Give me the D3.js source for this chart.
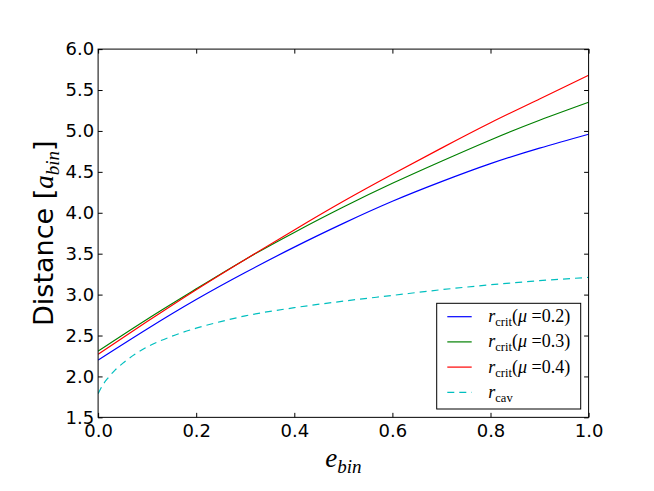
<!DOCTYPE html>
<html>
<head>
<meta charset="utf-8">
<script src="https://cdn.jsdelivr.net/npm/d3@7/dist/d3.min.js"></script>
<style>
  html, body { margin: 0; padding: 0; background: #fff; }
  svg { display: block; }
</style>
</head>
<body>
<svg id="chart" width="654" height="491"></svg>
<script>
// ---- data ----
const eGrid   = [0, 0.1, 0.2, 0.3, 0.4, 0.5, 0.6, 0.7, 0.8, 0.9, 1.0];
const rCritMu02 = [2.20, 2.58, 2.94, 3.27, 3.58, 3.87, 4.14, 4.38, 4.60, 4.79, 4.96];
const rCritMu03 = [2.31, 2.70, 3.07, 3.43, 3.76, 4.07, 4.36, 4.63, 4.89, 5.13, 5.35];
const rCritMu04 = [2.27, 2.67, 3.06, 3.43, 3.79, 4.14, 4.47, 4.79, 5.10, 5.39, 5.68];
const eCav    = [0, 0.01, 0.02, 0.035, 0.05, 0.075, 0.1, 0.15, 0.2, 0.25, 0.3, 0.4, 0.5, 0.6, 0.7, 0.8, 0.9, 1.0];
const rCav    = [1.79, 1.90, 1.98, 2.08, 2.16, 2.27, 2.36, 2.49, 2.59, 2.67, 2.74, 2.84, 2.92, 2.99, 3.06, 3.12, 3.17, 3.21];
const muLabels = ["0.2", "0.3", "0.4"];
const xTicks = [0, 0.2, 0.4, 0.6, 0.8, 1.0];
const yTicks = [1.5, 2.0, 2.5, 3.0, 3.5, 4.0, 4.5, 5.0, 5.5, 6.0];

// ---- layout ----
const pL = 98.1, pR = 588.6, pT = 49.1, pB = 417.35;
const svg = d3.select("#chart");
const x = d3.scaleLinear().domain([0, 1]).range([pL, pR]);
const y = d3.scaleLinear().domain([1.5, 6.0]).range([pB, pT]);
const fmt = d3.format(".1f");
const sans = "'DejaVu Sans', sans-serif";
const serif = "'Liberation Serif', 'DejaVu Serif', serif";

svg.append("defs").append("clipPath").attr("id", "clip")
  .append("rect").attr("x", pL).attr("y", pT).attr("width", pR - pL).attr("height", pB - pT);

const seriesList = [
  { xs: eGrid, ys: rCritMu02, color: "#0000ff", dash: null, mu: muLabels[0], curve: d3.curveNatural },
  { xs: eGrid, ys: rCritMu03, color: "#008000", dash: null, mu: muLabels[1], curve: d3.curveNatural },
  { xs: eGrid, ys: rCritMu04, color: "#ff0000", dash: null, mu: muLabels[2], curve: d3.curveNatural },
  { xs: eCav,  ys: rCav,      color: "#00bfbf", dash: "7,5", mu: null, curve: d3.curveMonotoneX }
];

const plot = svg.append("g").attr("clip-path", "url(#clip)");
seriesList.forEach(s => {
  const line = d3.line().x(d => x(d[0])).y(d => y(d[1])).curve(s.curve);
  plot.append("path")
    .datum(s.xs.map((v, i) => [v, s.ys[i]]))
    .attr("d", line)
    .attr("fill", "none")
    .attr("stroke", s.color)
    .attr("stroke-width", 1.2)
    .attr("stroke-dasharray", s.dash);
});

// axes
const tk = 4.5;
const gx = svg.append("g").attr("transform", `translate(0,${pB})`)
  .call(d3.axisBottom(x).tickValues(xTicks).tickFormat(fmt).tickSizeInner(-tk).tickSizeOuter(0).tickPadding(7));
const gxt = svg.append("g").attr("transform", `translate(0,${pT})`)
  .call(d3.axisTop(x).tickValues(xTicks).tickFormat("").tickSizeInner(-tk).tickSizeOuter(0));
const gy = svg.append("g").attr("transform", `translate(${pL},0)`)
  .call(d3.axisLeft(y).tickValues(yTicks).tickFormat(fmt).tickSizeInner(-tk).tickSizeOuter(0).tickPadding(4));
const gyr = svg.append("g").attr("transform", `translate(${pR},0)`)
  .call(d3.axisRight(y).tickValues(yTicks).tickFormat("").tickSizeInner(-tk).tickSizeOuter(0));
[gx, gxt, gy, gyr].forEach(g => {
  g.select(".domain").remove();
  g.selectAll(".tick line").attr("stroke", "#000").attr("stroke-width", 1);
  g.selectAll(".tick text").attr("fill", "#000").style("font-family", sans).style("font-size", "18px");
});

// frame
svg.append("rect").attr("x", pL).attr("y", pT).attr("width", pR - pL).attr("height", pB - pT)
  .attr("fill", "none").attr("stroke", "#000").attr("stroke-width", 1);

// x label: e_bin
const xl = svg.append("text").attr("x", (pL + pR) / 2).attr("y", 467)
  .attr("text-anchor", "middle").style("font-family", serif).style("font-size", "27px").attr("fill", "#000");
xl.append("tspan").style("font-style", "italic").text("e");
xl.append("tspan").style("font-style", "italic").style("font-size", "19px").attr("dy", 6).text("bin");

// y label: Distance [a_bin]
const yl = svg.append("text").attr("transform", `translate(53,${(pT + pB) / 2}) rotate(-90)`)
  .attr("text-anchor", "middle").style("font-family", sans).style("font-size", "27px").attr("fill", "#000");
yl.append("tspan").text("Distance [");
yl.append("tspan").style("font-family", serif).style("font-style", "italic").text("a");
yl.append("tspan").style("font-family", serif).style("font-style", "italic").style("font-size", "19px").attr("dy", 6).text("bin");
yl.append("tspan").attr("dy", -6).text("]");

// legend
const lg = svg.append("g");
lg.append("rect").attr("x", 436.7).attr("y", 303.3).attr("width", 144).attr("height", 105.7)
  .attr("fill", "#fff").attr("stroke", "#000").attr("stroke-width", 1);
seriesList.forEach((s, i) => {
  const cy = 316.7 + i * 25.2;
  lg.append("line").attr("x1", 447.3).attr("x2", 471.7).attr("y1", cy).attr("y2", cy)
    .attr("stroke", s.color).attr("stroke-width", 1.2).attr("stroke-dasharray", s.dash);
  const t = lg.append("text").attr("x", 488.3).attr("y", cy + 5.5)
    .style("font-family", serif).style("font-size", "18px").attr("fill", "#000");
  t.append("tspan").style("font-style", "italic").text("r");
  t.append("tspan").style("font-size", "12.5px").attr("dy", 4).text(s.mu ? "crit" : "cav");
  if (s.mu) {
    t.append("tspan").attr("dy", -4).text("(");
    t.append("tspan").style("font-style", "italic").text("μ");
    t.append("tspan").text(" =" + s.mu + ")");
  }
});
</script>
</body>
</html>
